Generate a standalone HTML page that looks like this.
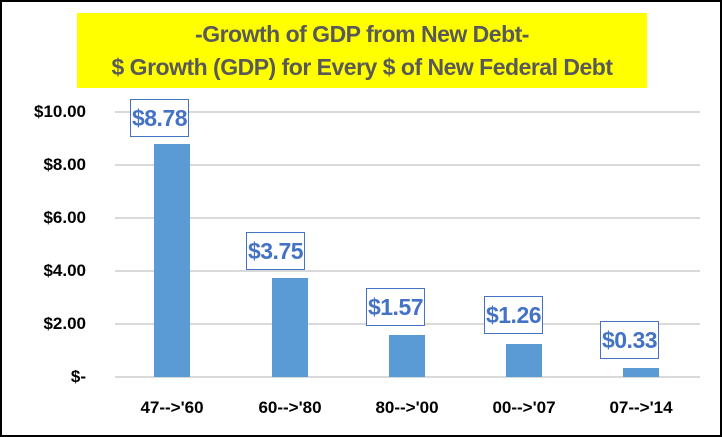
<!DOCTYPE html>
<html><head><style>
body{margin:0;background:#fff}
.w{position:relative;width:718px;height:433px;border:2px solid #000;overflow:hidden;font-family:"Liberation Sans",sans-serif}
.t{position:absolute;left:75px;top:11px;width:570px;height:75px;background:#ffff00;color:#595959;font-weight:bold;font-size:23px;text-align:center;line-height:33px;padding-top:5px;box-sizing:border-box;letter-spacing:-0.5px}
.g{position:absolute;left:113px;width:585px;height:2px;background:#d9d9d9}
.y{position:absolute;left:0;font-weight:bold;font-size:17px;color:#000;width:84px;text-align:right}
.b{position:absolute;width:36px;background:#5b9bd5}
.l{position:absolute;width:57px;height:36px;border:1.5px solid #4472c4;background:#fff;color:#4472c4;font-weight:bold;font-size:23px;text-align:center;line-height:36px;letter-spacing:-0.5px}
.x{position:absolute;top:396px;width:110px;text-align:center;font-weight:bold;font-size:17px}
</style></head><body><div class="w">
<div class="t">-Growth of GDP from New Debt-<br>$ Growth (GDP) for Every $ of New Federal Debt</div>
<div class="g" style="top:109px"></div>
<div class="g" style="top:162px"></div>
<div class="g" style="top:215px"></div>
<div class="g" style="top:268px"></div>
<div class="g" style="top:321px"></div>
<div class="g" style="top:374px"></div>
<div class="y" style="top:100px">$10.00</div>
<div class="y" style="top:153px">$8.00</div>
<div class="y" style="top:206px">$6.00</div>
<div class="y" style="top:259px">$4.00</div>
<div class="y" style="top:312px">$2.00</div>
<div class="y" style="top:365px">$-</div>
<div class="b" style="left:152px;top:142px;height:233px"></div>
<div class="b" style="left:270px;top:276px;height:99px"></div>
<div class="b" style="left:387px;top:333px;height:42px"></div>
<div class="b" style="left:504px;top:342px;height:33px"></div>
<div class="b" style="left:621px;top:366px;height:9px"></div>
<div class="l" style="left:128px;top:97px">$8.78</div>
<div class="l" style="left:244px;top:230px">$3.75</div>
<div class="l" style="left:364px;top:286px">$1.57</div>
<div class="l" style="left:482px;top:294px">$1.26</div>
<div class="l" style="left:598px;top:319px">$0.33</div>
<div class="x" style="left:115px">47--&gt;'60</div>
<div class="x" style="left:233px">60--&gt;'80</div>
<div class="x" style="left:350px">80--&gt;'00</div>
<div class="x" style="left:467px">00--&gt;'07</div>
<div class="x" style="left:584px">07--&gt;'14</div>
</div></body></html>
